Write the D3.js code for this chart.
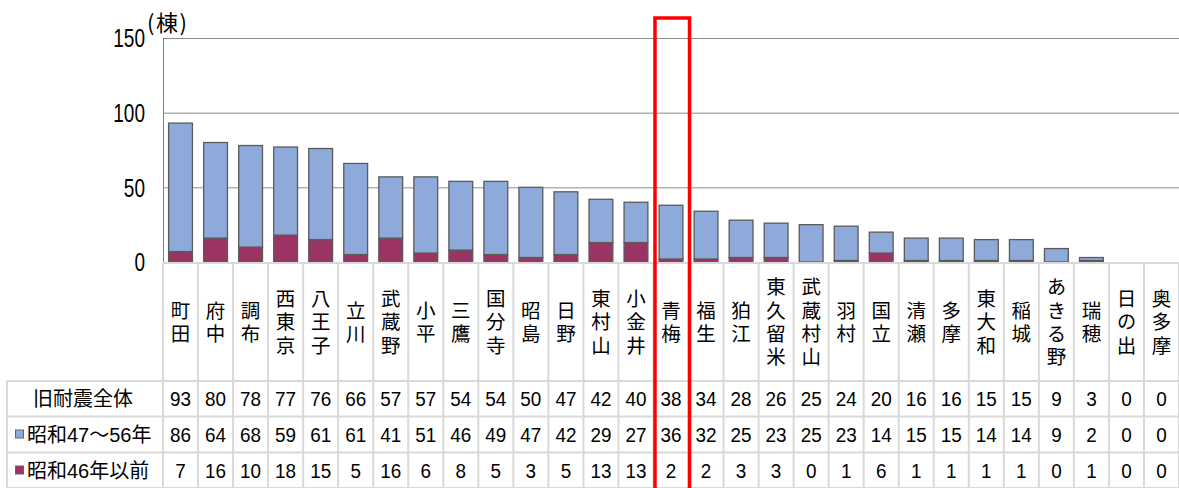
<!DOCTYPE html>
<html><head><meta charset="utf-8">
<script src="https://cdn.jsdelivr.net/npm/d3@7"></script>
<style>
html,body{margin:0;padding:0;background:#fff;}
svg{display:block;}
</style></head>
<body>
<svg id="chart" width="1179" height="488"></svg>
<script>
const categories = ["町田","府中","調布","西東京","八王子","立川","武蔵野","小平","三鷹","国分寺","昭島","日野","東村山","小金井","青梅","福生","狛江","東久留米","武蔵村山","羽村","国立","清瀬","多摩","東大和","稲城","あきる野","瑞穂","日の出","奥多摩"];
const totalAll = [93,80,78,77,76,66,57,57,54,54,50,47,42,40,38,34,28,26,25,24,20,16,16,15,15,9,3,0,0];
const seriesS4756 = [86,64,68,59,61,61,41,51,46,49,47,42,29,27,36,32,25,23,25,23,14,15,15,14,14,9,2,0,0];
const seriesS46 = [7,16,10,18,15,5,16,6,8,5,3,5,13,13,2,2,3,3,0,1,6,1,1,1,1,0,1,0,0];
const yTicks = [0,50,100,150];
const rowLabels = ["旧耐震全体","昭和47～56年","昭和46年以前"];
const unitLabel = "(棟)";
const highlight = "青梅";

const COL_BLUE = "#8eaadb", COL_RED = "#9b3464";
const svg = d3.select("#chart");
const FONT = "'Liberation Sans','Noto Sans CJK JP',sans-serif";
const JFONT = "'Noto Sans CJK JP',sans-serif";

const x = d3.scaleBand().domain(categories).range([163, 1179]).padding(0);
const y = d3.scaleLinear().domain([0,150]).range([262, 38]);

// gridlines
svg.append("g").selectAll("line").data(yTicks.filter(t=>t>0)).join("line")
  .attr("x1",163).attr("x2",1179).attr("y1",d=>y(d)+0.5).attr("y2",d=>y(d)+0.5)
  .attr("stroke","#8c8c8c").attr("stroke-width",1);
// left axis line
svg.append("line").attr("x1",163.5).attr("x2",163.5).attr("y1",y(150)).attr("y2",y(0))
  .attr("stroke","#808080").attr("stroke-width",1);

// tick labels (condensed)
svg.append("g").selectAll("text").data(yTicks).join("text")
  .attr("transform",d=>`translate(145,${y(d)+1}) scale(0.76,1)`)
  .attr("text-anchor","end").attr("dominant-baseline","central")
  .attr("font-family",FONT).attr("font-size",25).attr("fill","#000").text(d=>d);
svg.append("text").attr("x",147).attr("y",21).attr("font-family",JFONT).attr("font-size",22)
  .attr("letter-spacing",1.5).attr("dominant-baseline","central").text(unitLabel);

// stacked bars
const rows = categories.map((c,i)=>({cat:c, s46:seriesS46[i], s4756:seriesS4756[i]}));
const stack = d3.stack().keys(["s46","s4756"])(rows);
const colors = {s46:COL_RED, s4756:COL_BLUE};
const bw = x.bandwidth()*0.68;
stack.forEach(layer=>{
  svg.append("g").selectAll("rect").data(layer.filter(d=>d[1]-d[0]>0)).join("rect")
    .attr("x",d=>x(d.data.cat)+(x.bandwidth()-bw)/2)
    .attr("y",d=>y(d[1]))
    .attr("width",bw)
    .attr("height",d=>y(d[0])-y(d[1]))
    .attr("fill",colors[layer.key])
    .attr("stroke","#5a5a5a").attr("stroke-width",1.3);
});

// table grid
const gridCol = "#d9d9d9";
const tg = svg.append("g");
const rowLines = [381, 416.5, 452.5, 488];
tg.append("line").attr("x1",163).attr("x2",1179).attr("y1",263).attr("y2",263).attr("stroke",gridCol).attr("stroke-width",2);
rowLines.forEach(yy=>tg.append("line").attr("x1",7).attr("x2",1179).attr("y1",yy).attr("y2",yy).attr("stroke",gridCol).attr("stroke-width",2));
tg.append("line").attr("x1",7).attr("x2",7).attr("y1",381).attr("y2",488).attr("stroke",gridCol).attr("stroke-width",2);
const bounds = categories.map(c=>x(c)).concat([1179]);
tg.selectAll("line.v").data(bounds).join("line").attr("class","v")
  .attr("x1",d=>d).attr("x2",d=>d).attr("y1",263).attr("y2",488)
  .attr("stroke",gridCol).attr("stroke-width",2);

// category labels (vertical writing mode)
const ls = 3.8;
svg.append("g").selectAll("text").data(categories).join("text")
  .attr("x",d=>x(d)+x.bandwidth()/2)
  .attr("y",322 + ls/2)
  .attr("writing-mode","vertical-rl")
  .attr("letter-spacing",ls)
  .attr("text-anchor","middle")
  .attr("font-family",JFONT).attr("font-size",19.5).attr("fill","#000").text(d=>d);

// table values
const rowCenters = [399, 434.5, 470.5];
const rowData = [totalAll, seriesS4756, seriesS46];
rowData.forEach((arr,r)=>{
  svg.append("g").selectAll("text").data(arr).join("text")
    .attr("transform",(d,i)=>`translate(${x(categories[i])+x.bandwidth()/2},${rowCenters[r]}) scale(0.9,1)`)
    .attr("text-anchor","middle").attr("dominant-baseline","central")
    .attr("font-family",FONT).attr("font-size",21).attr("fill","#000").text(d=>d);
});
// row headers
svg.append("text").attr("x",83).attr("y",rowCenters[0]).attr("text-anchor","middle").attr("dominant-baseline","central")
  .attr("font-family",FONT).attr("font-size",20).text(rowLabels[0]);
[[1,COL_BLUE],[2,COL_RED]].forEach(([r,col])=>{
  svg.append("rect").attr("x",15.5).attr("y",rowCenters[r]-4.5).attr("width",8).attr("height",8)
    .attr("fill",col).attr("stroke","#666").attr("stroke-width",1);
  svg.append("text").attr("x",27).attr("y",rowCenters[r]).attr("dominant-baseline","central")
    .attr("font-family",FONT).attr("font-size",20).text(rowLabels[r]);
});

// highlight box
svg.append("rect").attr("x",x(highlight)+1.5).attr("y",18).attr("width",x.bandwidth()-0.5).attr("height",480)
  .attr("fill","none").attr("stroke","#ff0000").attr("stroke-width",3.5);
</script>
</body></html>
